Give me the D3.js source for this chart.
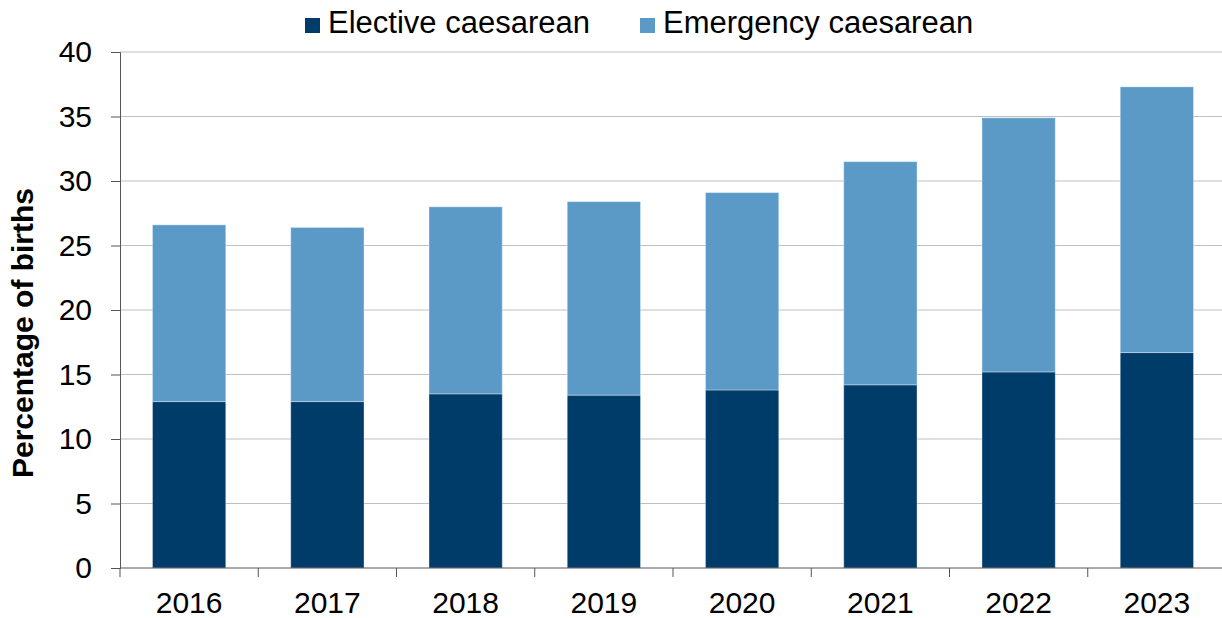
<!DOCTYPE html>
<html>
<head>
<meta charset="utf-8">
<script src="https://cdn.jsdelivr.net/npm/d3@7"></script>
<style>
  body { margin: 0; background: #fff; }
  svg { font-family: "Liberation Sans", Arial, sans-serif; display: block; }
</style>
</head>
<body>
<svg id="chart"></svg>
<script>
// data
const years = ['2016', '2017', '2018', '2019', '2020', '2021', '2022', '2023'];
const elective = [12.9, 12.9, 13.5, 13.4, 13.8, 14.2, 15.2, 16.7];
const emergency = [13.7, 13.5, 14.5, 15.0, 15.3, 17.3, 19.7, 20.6];
const seriesNames = ['Elective caesarean', 'Emergency caesarean'];
const yTicks = [0, 5, 10, 15, 20, 25, 30, 35, 40];

const width = 1222;
const height = 618;
const margin = { top: 52, right: -4, bottom: 50, left: 120 };

const svg = d3.select('#chart')
    .attr('width', width)
    .attr('height', height);

const colors = d3.scaleOrdinal()
    .domain(seriesNames)
    .range(['#003c6a', '#5b9ac7']);

// scales
const xScale = d3.scaleBand()
    .domain(years)
    .range([margin.left, width - margin.right])
    .paddingInner(0.47)
    .paddingOuter(0.235);

const yScale = d3.scaleLinear()
    .domain([0, 40])
    .range([height - margin.bottom, margin.top]);

// gridlines
svg.append('g')
    .selectAll('line')
    .data(yTicks.filter(d => d > 0))
    .enter()
    .append('line')
    .attr('x1', margin.left)
    .attr('x2', width)
    .attr('y1', d => yScale(d))
    .attr('y2', d => yScale(d))
    .attr('stroke', '#c0c0c0')
    .attr('stroke-width', 1);

// stacked bars
const table = years.map((y, i) => ({ year: y, 'Elective caesarean': elective[i], 'Emergency caesarean': emergency[i] }));
const stacked = d3.stack().keys(seriesNames)(table);

svg.append('g')
    .selectAll('g')
    .data(stacked)
    .enter()
    .append('g')
    .attr('fill', d => colors(d.key))
    .selectAll('rect')
    .data(d => d)
    .enter()
    .append('rect')
    .attr('x', d => xScale(d.data.year))
    .attr('y', d => yScale(d[1]))
    .attr('width', xScale.bandwidth())
    .attr('height', d => yScale(d[0]) - yScale(d[1]))
    .attr('stroke', 'rgba(255,255,255,0.35)')
    .attr('stroke-width', 1);

// y axis
const yAxis = d3.axisLeft(yScale)
    .tickValues(yTicks)
    .tickSize(9)
    .tickPadding(19);

const gy = svg.append('g')
    .attr('transform', `translate(${margin.left}, 0)`)
    .call(yAxis);
gy.select('.domain').attr('stroke', '#555');
gy.selectAll('.tick line').attr('stroke', '#555');
gy.selectAll('.tick text')
    .attr('font-size', 30)
    .attr('fill', '#000')
    .attr('font-family', '"Liberation Sans", Arial, sans-serif');

// x axis: ticks between categories
const xAxisG = svg.append('g')
    .attr('transform', `translate(0, ${yScale(0)})`);

xAxisG.append('line')
    .attr('x1', margin.left)
    .attr('x2', width)
    .attr('stroke', '#555');

const step = xScale.step();

xAxisG.selectAll('.bnd')
    .data(d3.range(years.length))
    .enter()
    .append('line')
    .attr('x1', i => margin.left + i * step)
    .attr('x2', i => margin.left + i * step)
    .attr('y1', 0)
    .attr('y2', 9)
    .attr('stroke', '#555');

xAxisG.selectAll('text')
    .data(years)
    .enter()
    .append('text')
    .attr('x', d => xScale(d) + xScale.bandwidth() / 2)
    .attr('y', 45)
    .attr('text-anchor', 'middle')
    .attr('font-size', 30)
    .attr('fill', '#000')
    .text(d => d);

// y axis title
svg.append('text')
    .attr('transform', 'translate(33, 333) rotate(-90)')
    .attr('text-anchor', 'middle')
    .attr('font-size', 30)
    .attr('font-weight', 'bold')
    .attr('fill', '#000')
    .text('Percentage of births');

// legend
const legend = svg.append('g');
const legendX = [305, 640];
seriesNames.forEach((name, i) => {
    legend.append('rect')
        .attr('x', legendX[i])
        .attr('y', 18)
        .attr('width', 15)
        .attr('height', 15)
        .attr('fill', colors(name));
    legend.append('text')
        .attr('x', legendX[i] + 23)
        .attr('y', 33)
        .attr('font-size', 31)
        .attr('fill', '#000')
        .text(name);
});
</script>
</body>
</html>
